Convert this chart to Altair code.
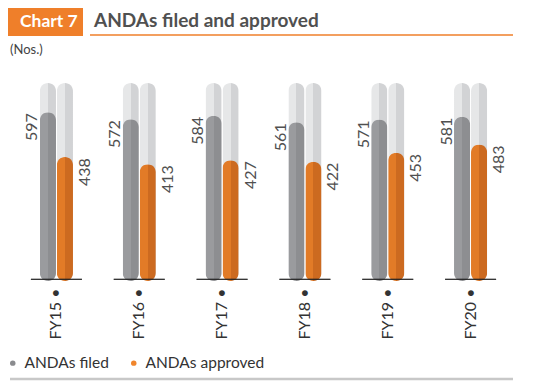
import altair as alt
import pandas as pd

YEARS = ["FY15", "FY16", "FY17", "FY18", "FY19", "FY20"]
FILED = [597, 572, 584, 561, 571, 581]
APPROVED = [438, 413, 427, 422, 453, 483]
SERIES = ["ANDAs filed", "ANDAs approved"]
AXIS_MAX = 700

rows = []
for y, f, a in zip(YEARS, FILED, APPROVED):
    rows.append({"year": y, "series": SERIES[0], "value": f})
    rows.append({"year": y, "series": SERIES[1], "value": a})
df = pd.DataFrame(rows)

FONT = "Lato"
ORANGE = "#ef7f2a"

def grad(c1, c2):
    return alt.Gradient(
        gradient="linear",
        stops=[alt.GradientStop(color=c1, offset=0), alt.GradientStop(color=c1, offset=0.5),
               alt.GradientStop(color=c2, offset=0.5), alt.GradientStop(color=c2, offset=1)],
        x1=0, x2=1, y1=0, y2=0)

x_enc = alt.X("year:N", sort=YEARS,
              scale=alt.Scale(paddingInner=0.6, paddingOuter=0.3),
              axis=alt.Axis(title=None, domain=False, ticks=False, labelAngle=270,
                            labelExpr="datum.label + ' •'", labelFont=FONT, labelFontSize=16,
                            labelColor="#333", labelPadding=7))
xo_enc = alt.XOffset("series:N", sort=SERIES, scale=alt.Scale(paddingInner=0.05, paddingOuter=0))
y_scale = alt.Scale(domain=[0, AXIS_MAX], nice=False)

base = alt.Chart(df)

bg = base.mark_bar(cornerRadius=8, color=grad("#e6e7e8", "#d2d3d5")).encode(
    x=x_enc, xOffset=xo_enc,
    y=alt.Y("v:Q", scale=y_scale, axis=None)).transform_calculate(v=str(AXIS_MAX))

filed = base.transform_filter(alt.datum.series == SERIES[0]).mark_bar(
    cornerRadius=8, color=grad("#9a9b9e", "#8d8e91")).encode(
    x=x_enc, xOffset=xo_enc, y=alt.Y("value:Q", scale=y_scale, axis=None))

appr = base.transform_filter(alt.datum.series == SERIES[1]).mark_bar(
    cornerRadius=8, color=grad("#e27b27", "#cc6a20")).encode(
    x=x_enc, xOffset=xo_enc, y=alt.Y("value:Q", scale=y_scale, axis=None))

tick = base.mark_tick(orient="horizontal", size=51, thickness=1.2, color="#222").encode(
    x=x_enc, y=alt.value(196.3))

lab_f = base.transform_filter(alt.datum.series == SERIES[0]).mark_text(
    angle=270, align="right", baseline="alphabetic", dx=-1, dy=-10.5,
    font=FONT, fontSize=16, color="#505050").encode(
    x=x_enc, xOffset=xo_enc, y=alt.Y("value:Q", scale=y_scale, axis=None),
    text="value:Q")

lab_a = base.transform_filter(alt.datum.series == SERIES[1]).mark_text(
    angle=270, align="right", baseline="alphabetic", dx=-1, dy=25,
    font=FONT, fontSize=16, color="#505050").encode(
    x=x_enc, xOffset=xo_enc, y=alt.Y("value:Q", scale=y_scale, axis=None),
    text="value:Q")

leg = base.mark_circle(opacity=0, size=0).encode(
    x=x_enc, y=alt.value(0),
    color=alt.Color("series:N", sort=SERIES,
                    scale=alt.Scale(domain=SERIES, range=["#8a8b8e", "#f0852c"]),
                    legend=alt.Legend(orient="none", legendX=-10, legendY=272, direction="horizontal",
                                      title=None, symbolType="circle", symbolSize=30,
                                      symbolOpacity=1, symbolStrokeWidth=0,
                                      labelFont=FONT, labelFontSize=15.5, labelColor="#333",
                                      labelOffset=4, columnPadding=17)))

one = alt.Chart(pd.DataFrame({"a": [0]}))
box = one.mark_rect(color=ORANGE).encode(
    x=alt.value(-7), x2=alt.value(68), y=alt.value(-77), y2=alt.value(-47))
box_t = one.mark_text(text="Chart 7", font=FONT, fontSize=17.5, fontWeight="bold", color="white",
                      align="left", baseline="alphabetic").encode(x=alt.value(5), y=alt.value(-56))
title_t = one.mark_text(text="ANDAs filed and approved", font=FONT, fontSize=19, fontWeight="bold",
                        color="#505050", align="left", baseline="alphabetic").encode(
    x=alt.value(79), y=alt.value(-56))
uline = one.mark_rule(color=ORANGE, strokeWidth=1.5).encode(
    x=alt.value(75), x2=alt.value(498), y=alt.value(-48))
nos = one.mark_text(text="(Nos.)", font=FONT, fontSize=13, color="#444",
                    align="left", baseline="alphabetic").encode(x=alt.value(-5), y=alt.value(-29))
bline = one.mark_rule(color="#c8c8c8", strokeWidth=2.5).encode(
    x=alt.value(-5), x2=alt.value(498), y=alt.value(296))

chart = alt.layer(bg, filed, appr, tick, lab_f, lab_a, leg, box, box_t, title_t, uline, nos, bline).properties(
    width=497, height=198,
    padding={"left": 7, "top": 75, "right": 19, "bottom": 100},
    autosize=alt.AutoSizeParams(type="none"),
).configure_view(stroke=None)

chart.save("out.html", embed_options={"renderer": "svg", "actions": False})
